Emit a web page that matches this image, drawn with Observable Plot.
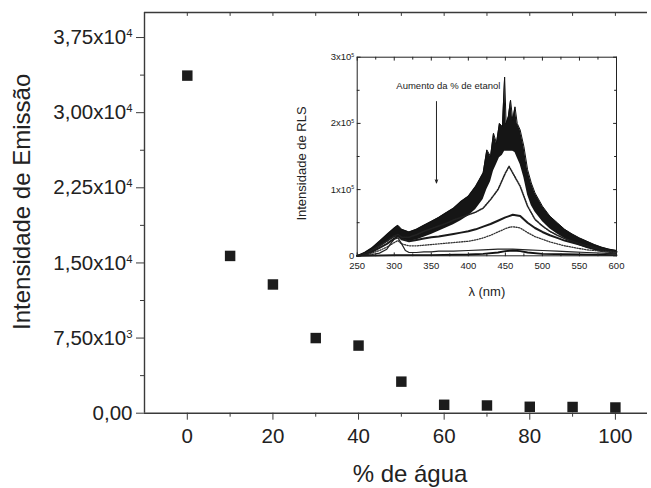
<!DOCTYPE html>
<html><head><meta charset="utf-8">
<script src="https://cdn.jsdelivr.net/npm/d3@7"></script>
<script src="https://cdn.jsdelivr.net/npm/@observablehq/plot@0.6"></script>
<style>
html,body{margin:0;padding:0;background:#fff;}
#wrap{position:relative;width:651px;height:488px;overflow:hidden;font-family:"Liberation Sans",Arial,sans-serif;}
#inset{position:absolute;left:290px;top:40px;}
svg{display:block;}
</style></head><body>
<div id="wrap"><div id="main"></div><div id="inset"></div></div>
<script>
// ---------- main chart data ----------
const waterPct = [0, 10, 20, 30, 40, 50, 60, 70, 80, 90, 100];
const emission = [33700, 15700, 12850, 7500, 6750, 3150, 840, 770, 640, 620, 570];
const yTicks = [0, 7500, 15000, 22500, 30000, 37500];
const yTickLabels = ["0,00", "7,50x10^3", "1,50x10^4", "2,25x10^4", "3,00x10^4", "3,75x10^4"];
const yMinorTicks = [3750, 11250, 18750, 26250, 33750];
const xTicks = [0, 20, 40, 60, 80, 100];
const xMinorTicks = [10, 30, 50, 70, 90];
const xTopTicks = [0, 10, 20, 30, 40, 50, 60, 70, 80, 90, 100];
const xTitle = "% de água";
const yTitle = "Intensidade de Emissão";

// ---------- inset data (RLS spectra, values x1000) ----------
const topLam  = [250,260,270,280,290,300,305,310,320,330,340,350,360,370,380,390,400,410,420,425,430,434,438,442,446,449,451,454,457,460,463,466,470,475,480,485,490,500,510,520,530,540,550,560,570,580,590,600];
const topHigh = [0,5,12,22,32,42,46,40,36,40,46,52,58,65,72,82,90,105,125,160,150,185,170,200,195,270,200,210,235,205,225,200,190,165,130,110,95,75,60,50,40,33,27,22,17,13,10,8];
const topLow  = [0,2,5,12,20,27,29,25,22,24,28,32,37,42,47,53,60,70,85,100,112,128,138,148,152,158,158,158,158,158,156,148,138,118,92,76,66,52,41,33,26,20,15,11,8,5,4,2];
const specLam = [250,260,270,280,290,300,305,310,320,330,340,350,360,370,380,390,400,410,420,430,440,450,455,460,470,480,490,500,510,520,530,540,550,560,570,580,590,600];
const curve2  = [0,3,8,15,22,30,32,28,28,32,37,41,45,49,54,58,62,66,72,85,100,125,135,125,105,75,55,45,37,31,26,22,18,15,12,10,8,6];
const curve3  = [0,2,6,12,18,26,30,25,22,24,26,28,29,31,33,35,37,40,44,48,53,58,60,62,60,50,42,36,31,27,23,20,17,14,12,10,8,6];
const curve4  = [0,1,4,8,13,20,23,18,15,15,16,17,18,19,20,21,22,24,27,31,36,41,43,44,42,35,29,25,21,18,15,13,11,9,8,7,6,5];
const lam5    = [250,260,270,280,290,295,300,305,310,315,320,330,340,350,360,380,400,420,440,460,480,500,520,540,560,580,600];
const curve5  = [0,1,2,4,10,18,25,27,18,8,5,5,6,6,7,7,8,9,10,10,9,8,7,6,5,4,3];
const lam6    = [250,300,350,400,420,440,450,460,470,480,500,550,600];
const curve6  = [0,1,1,2,3,5,7,8,7,5,3,2,1];
const insetXTicks = [250,300,350,400,450,500,550,600];
const insetXMinor = [275,325,375,425,475,525,575];
const insetYTicks = [0,100000,200000,300000];
const insetYLabels = ["0","1x10^5","2x10^5","3x10^5"];
const insetYMinor = [50000,150000,250000];
const noteText = "Aumento da % de etanol";
const noteLam = 373, noteY = 256000;
const arrowLam = 357, arrowFrom = 233000, arrowTo = 110000;
const insetXTitle = "λ (nm)";
const insetYTitle = "Intensidade de RLS";

// ---------- helpers ----------
const tickShape = {draw(ctx, l) { ctx.moveTo(0, 0); ctx.lineTo(0, -l); }};
function vTicks(vals, opts) {
  return Plot.vector(vals, {anchor: "start", shape: tickShape, stroke: "#222", strokeWidth: 1, ...opts});
}
function superscripts(svg) {
  d3.select(svg).selectAll("text").each(function () {
    const t = this.textContent;
    if (t.includes("^")) {
      const [a, b] = t.split("^");
      this.textContent = a;
      d3.select(this).append("tspan").attr("dy", "-0.62em").attr("font-size", "0.55em").text(b);
    }
  });
}

// ---------- main plot ----------
const pts = waterPct.map((x, i) => ({x, y: emission[i]}));
const axisColor = "#3a3a3a";
const main = Plot.plot({
  width: 651, height: 488,
  marginLeft: 144, marginRight: 4, marginTop: 12, marginBottom: 75.3,
  x: {domain: [-10, 107.5]},
  y: {domain: [0, 40000]},
  style: {fontFamily: "Liberation Sans, Arial, sans-serif", fontSize: "20px", color: "#222", background: "transparent"},
  marks: [
    Plot.ruleX([-10], {stroke: axisColor, strokeWidth: 1.4}),
    Plot.ruleY([0], {stroke: axisColor, strokeWidth: 1.4}),
    Plot.ruleY([40000], {stroke: axisColor, strokeWidth: 1.4}),
    Plot.axisY(yTicks, {tickSize: 8, tickPadding: 4, stroke: axisColor, fill: "#222", fontSize: 20.5, label: null,
      tickFormat: d => yTickLabels[yTicks.indexOf(d)]}),
    Plot.axisY(yMinorTicks, {tickSize: 4, stroke: axisColor, tickFormat: () => "", label: null}),
    Plot.axisX(xTicks, {tickSize: 7, tickPadding: 8, stroke: axisColor, fill: "#222", fontSize: 20.5, label: null,
      tickFormat: d => String(d)}),
    Plot.axisX(xMinorTicks, {tickSize: 4, stroke: axisColor, tickFormat: () => "", label: null}),
    vTicks(xTopTicks, {x: d => d, y: () => 40000, length: 3, rotate: 180, stroke: axisColor}),
    Plot.dot(pts, {x: "x", y: "y", symbol: "square", r: 5.9, fill: "#1c1c1c", stroke: null}),
    Plot.text([yTitle], {frameAnchor: "left", textAnchor: "middle", lineAnchor: "middle", text: d => d, rotate: -90, dx: -122, dy: -11, fontSize: 24, fill: "#222"}),
    Plot.text([xTitle], {frameAnchor: "bottom", textAnchor: "middle", lineAnchor: "middle", text: d => d, dx: 14, dy: 61, fontSize: 24, fill: "#222"})
  ]
});
superscripts(main);
document.getElementById("main").appendChild(main);

// ---------- inset plot ----------
const band = topLam.map((l, i) => ({l, lo: topLow[i] * 1000, hi: topHigh[i] * 1000}));
const mk = (lams, vals) => lams.map((l, i) => ({l, v: vals[i] * 1000}));
const s2 = mk(specLam, curve2), s3 = mk(specLam, curve3), s4 = mk(specLam, curve4);
const s5 = mk(lam5, curve5), s6 = mk(lam6, curve6);

const inset = Plot.plot({
  width: 340, height: 270,
  marginLeft: 66.7, marginRight: 14, marginTop: 16.7, marginBottom: 54.7,
  x: {domain: [250, 600]},
  y: {domain: [0, 300000]},
  style: {fontFamily: "Liberation Sans, Arial, sans-serif", fontSize: "9.5px", color: "#222", background: "transparent"},
  marks: [
    Plot.areaY(band, {x: "l", y1: "lo", y2: "hi", fill: "#151515", curve: "linear"}),
    Plot.line(band, {x: "l", y: "hi", stroke: "#111", strokeWidth: 1}),
    Plot.line(s2, {x: "l", y: "v", stroke: "#222", strokeWidth: 1.6, strokeDasharray: "1.2,1.2"}),
    Plot.line(s3, {x: "l", y: "v", stroke: "#1a1a1a", strokeWidth: 2}),
    Plot.line(s4, {x: "l", y: "v", stroke: "#333", strokeWidth: 1.3, strokeDasharray: "1.2,1.4"}),
    Plot.line(s5, {x: "l", y: "v", stroke: "#222", strokeWidth: 1.2}),
    Plot.line(s6, {x: "l", y: "v", stroke: "#111", strokeWidth: 1.8}),
    Plot.frame({stroke: "#222", strokeWidth: 1}),
    Plot.axisX(insetXTicks, {tickSize: 0, tickPadding: 6, label: null, fontSize: 9.5, tickFormat: d => String(d)}),
    Plot.axisY(insetYTicks, {tickSize: 0, tickPadding: 3, label: null, fontSize: 9.5,
      tickFormat: d => insetYLabels[insetYTicks.indexOf(d)]}),
    vTicks(insetXTicks, {x: d => d, y: () => 0, length: 3, rotate: 0}),
    vTicks(insetXMinor, {x: d => d, y: () => 0, length: 2, rotate: 0}),
    vTicks(insetXTicks, {x: d => d, y: () => 300000, length: 3, rotate: 180}),
    vTicks(insetXMinor, {x: d => d, y: () => 300000, length: 2, rotate: 180}),
    vTicks(insetYTicks, {x: () => 250, y: d => d, length: 3, rotate: 90}),
    vTicks(insetYMinor, {x: () => 250, y: d => d, length: 2, rotate: 90}),
    vTicks(insetYTicks, {x: () => 600, y: d => d, length: 3, rotate: -90}),
    vTicks(insetYMinor, {x: () => 600, y: d => d, length: 2, rotate: -90}),
    Plot.arrow([{l: arrowLam, a: arrowFrom, b: arrowTo}], {x1: "l", x2: "l", y1: "a", y2: "b", stroke: "#222", strokeWidth: 1, headLength: 5, headAngle: 40}),
    Plot.text([noteText], {x: () => noteLam, y: () => noteY, text: d => d, fontSize: 9.5, fill: "#222"}),
    Plot.text([insetYTitle], {frameAnchor: "left", textAnchor: "middle", lineAnchor: "middle", text: d => d, rotate: -90, dx: -55, dy: 7, fontSize: 13, fill: "#222"}),
    Plot.text([insetXTitle], {frameAnchor: "bottom", textAnchor: "middle", lineAnchor: "middle", text: d => d, dy: 36, fontSize: 13, fill: "#222"})
  ]
});
superscripts(inset);
document.getElementById("inset").appendChild(inset);
</script>
</body></html>
